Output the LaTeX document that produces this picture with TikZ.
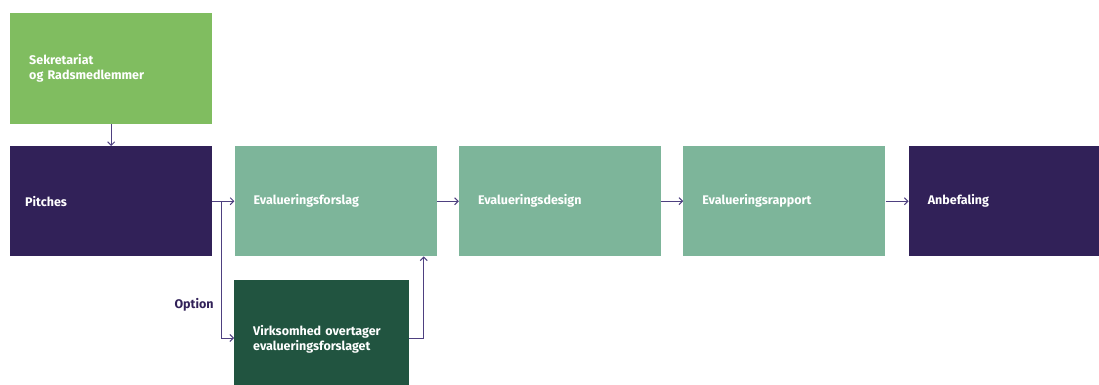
\documentclass[tikz,border=0pt]{standalone}
\usepackage{fontspec}
\setmainfont{Fira Sans}
\usetikzlibrary{positioning,arrows.meta,calc}

\definecolor{lysgroen}{HTML}{80BD60}
\definecolor{mintgroen}{HTML}{7DB59A}
\definecolor{moerkgroen}{HTML}{215440}
\definecolor{lilla}{HTML}{312158}
\definecolor{pilfarve}{HTML}{4E4080}

\tikzset{
  boks/.style={anchor=north west,minimum width=202pt,minimum height=110pt,
    text width=164pt,inner xsep=19pt,align=left,text=white,
    font=\bfseries\fontsize{12.5}{15}\selectfont},
  pil/.style={pilfarve,line width=1pt,-{Straight Barb[length=3.5pt,width=7pt]}}
}

\begin{document}
\begin{tikzpicture}[x=1pt,y=-1pt]
                \useasboundingbox (0,0) rectangle (1099,385);
                \node[boks,fill=lysgroen,minimum height=111pt] (sekr) at (10,13) {Sekretariat\\og Radsmedlemmer\\[6pt]};
                \node[boks,fill=lilla,inner xsep=15pt,text width=172pt] (pitch) at (10,146) {Pitches};
                \node[boks,fill=mintgroen,right=22pt of pitch] (forslag) {Evalueringsforslag};
                \node[boks,fill=mintgroen,right=22pt of forslag] (design) {Evalueringsdesign};
                \node[boks,fill=mintgroen,right=22pt of design] (rapport) {Evalueringsrapport};
                \node[boks,fill=lilla,right=23pt of rapport] (anbef) {Anbefaling};
                \node[boks,fill=moerkgroen,minimum width=175pt,text width=137pt,minimum height=118pt] (virk) at (234,280) {Virksomhed overtager\\evalueringsforslaget};
                % pile
                \draw[pil] (sekr.south) -- (pitch.north);
                \draw[pil] (pitch.east) -- (forslag.west);
                \draw[pil] (forslag.east) -- (design.west);
                \draw[pil] (design.east) -- (rapport.west);
                \draw[pil] (rapport.east) -- (anbef.west);
                \coordinate (gren) at ($(pitch.east)+(9,0)$);
                \draw[pil] (gren) |- (virk.west |- 0,338) node[pos=0.38,left=4pt,text=lilla,font=\bfseries\fontsize{12.5}{15}\selectfont] (option) {Option};
                \draw[pil] (virk.east |- 0,338) -| ($(forslag.south east)+(-13,0)$);
            \end{tikzpicture}
\end{document}
